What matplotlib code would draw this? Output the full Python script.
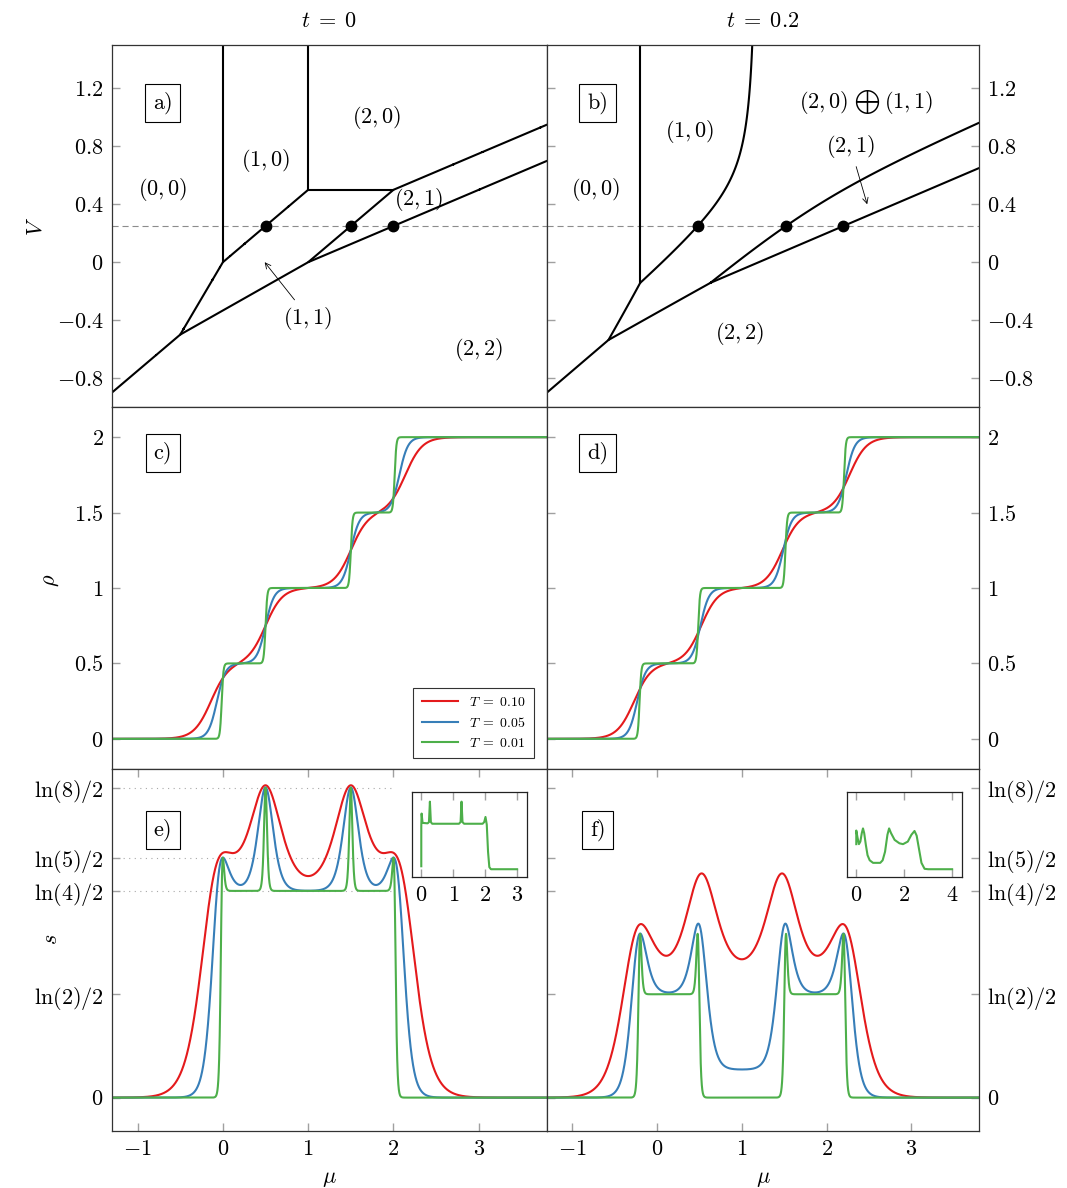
import numpy as np
import matplotlib
matplotlib.use('Agg')
import matplotlib.pyplot as plt

plt.rcParams['mathtext.fontset'] = 'cm'
plt.rcParams['font.family'] = 'serif'
plt.rcParams['font.serif'] = ['cmr10', 'DejaVu Serif']

# model parameters (two-site Hubbard dimer, U = 1, cut at V = 0.25)
U = 1.0
V_cut = 0.25
hoppings = [0.0, 0.2]
titles = [r'$t\;=\;0$', r'$t\;=\;0.2$']
temperatures = [0.10, 0.05, 0.01]
colors = ['#e41a1c', '#377eb8', '#4daf4a']
legend_labels = [r'$T\;=\;0.10$', r'$T\;=\;0.05$', r'$T\;=\;0.01$']

mu_ticks = [-1, 0, 1, 2, 3]
V_ticks = [-0.8, -0.4, 0, 0.4, 0.8, 1.2]
V_ticklabels = [r'$-0.8$', r'$-0.4$', r'$0$', r'$0.4$', r'$0.8$', r'$1.2$']
rho_ticks = [0, 0.5, 1, 1.5, 2]
rho_ticklabels = [r'$0$', r'$0.5$', r'$1$', r'$1.5$', r'$2$']
s_ticks = [0, np.log(2) / 2, np.log(4) / 2, np.log(5) / 2, np.log(8) / 2]
s_ticklabels = [r'$0$', r'$\ln(2)/2$', r'$\ln(4)/2$', r'$\ln(5)/2$', r'$\ln(8)/2$']
s_guides = [np.log(4) / 2, np.log(5) / 2, np.log(8) / 2]

# region labels (text, mu, V)
labels_a = [(r'$(0,0)$', -0.70, 0.50), (r'$(1,0)$', 0.50, 0.70),
            (r'$(2,0)$', 1.80, 1.00), (r'$(2,1)$', 2.29, 0.43),
            (r'$(1,1)$', 1.00, -0.39), (r'$(2,2)$', 3.00, -0.60)]
labels_b = [(r'$(0,0)$', -0.73, 0.50), (r'$(1,0)$', 0.38, 0.90),
            (r'$(2,0)$', 1.97, 1.105), (r'$(1,1)$', 2.97, 1.105),
            (r'$(2,1)$', 2.29, 0.80), (r'$(2,2)$', 0.98, -0.49)]
oplus_pos = (2.483, 1.105)
arrow_a = ((0.84, -0.26), (0.49, 0.0))
arrow_b = ((2.35, 0.66), (2.48, 0.40))

# insets
inset_e_x = [0.0, 0.0, 0.01, 0.04, 0.20, 0.24, 0.27, 0.30, 0.34, 1.18, 1.23, 1.26, 1.29,
             1.34, 1.92, 1.97, 2.01, 2.05, 2.09, 2.13, 2.18, 3.0]
inset_e_y = [0.13, 0.60, 0.75, 0.64, 0.635, 0.65, 0.89, 0.65, 0.63, 0.63, 0.65, 0.89, 0.65,
             0.63, 0.63, 0.65, 0.71, 0.62, 0.30, 0.12, 0.095, 0.095]
inset_f_x = [0.0, 0.0, 0.05, 0.11, 0.17, 0.23, 0.28, 0.33, 0.40, 0.47, 0.56, 0.70, 1.00,
             1.10, 1.20, 1.30, 1.37, 1.45, 1.60, 1.80, 1.95, 2.15, 2.30, 2.43, 2.52,
             2.62, 2.72, 2.85, 3.0, 4.0]
inset_f_y = [0.39, 0.55, 0.47, 0.39, 0.42, 0.52, 0.575, 0.52, 0.38, 0.26, 0.20, 0.17, 0.17,
             0.20, 0.30, 0.50, 0.575, 0.52, 0.44, 0.40, 0.39, 0.42, 0.50, 0.545, 0.49,
             0.33, 0.17, 0.10, 0.095, 0.095]

FS = 16


def dimer_levels(V, t):
    Veff = 2 * V
    root = np.sqrt(((U - Veff) / 2) ** 2 + 4 * t ** 2)
    N = np.array([0, 1, 1, 2, 2, 2, 2, 3, 3, 4])
    E = np.array([0, -t, t, (Veff + U) / 2 - root, Veff, U, (Veff + U) / 2 + root,
                  U + 2 * Veff - t, U + 2 * Veff + t, 2 * U + 4 * Veff])
    g = np.array([1, 2, 2, 1, 3, 1, 1, 2, 2, 1])
    return N, E, g


def thermo(mu, T, t):
    N, E, g = dimer_levels(V_cut, t)
    om = E[:, None] - mu[None, :] * N[:, None]
    om = om - om.min(axis=0)
    w = g[:, None] * np.exp(-om / T)
    Z = w.sum(axis=0)
    rho = (w * N[:, None]).sum(axis=0) / Z / 2
    s = (np.log(Z) + (w * om).sum(axis=0) / Z / T) / 2
    return rho, s


def phase_energies(V, t):
    Veff = 2 * V
    singlet = (Veff + U) / 2 - np.sqrt(((U - Veff) / 2) ** 2 + 4 * t ** 2)
    if t == 0:
        return [(0, 0 * V), (1, 0 * V), (2, U + 0 * V), (2, Veff),
                (3, U + 2 * Veff), (4, 2 * U + 4 * Veff)]
    return [(0, 0 * V), (1, -t + 0 * V), (2, singlet),
            (3, U + 2 * Veff - t), (4, 2 * U + 4 * Veff)]


def draw_phase(ax, t):
    mu = np.linspace(-1.3, 3.8, 1500)
    V = np.linspace(-1.0, 1.5, 1500)
    MU, VV = np.meshgrid(mu, V)
    ph = phase_energies(VV, t)
    G = np.array([E - MU * n for n, E in ph])
    for i in range(len(ph)):
        for j in range(i + 1, len(ph)):
            others = [k for k in range(len(ph)) if k not in (i, j)]
            low = np.minimum(G[i], G[j])
            mask = G[others].min(axis=0) < low - 1e-12
            D = np.ma.masked_where(mask, G[i] - G[j])
            if D.count() == 0 or D.min() > 0 or D.max() < 0:
                continue
            cs = ax.contour(MU, VV, D, levels=[0], colors='k', linewidths=1.5)
            cs.set_capstyle('round')
    # transitions along the cut
    N, E, g = dimer_levels(V_cut, t)
    Eg = [E[N == n].min() for n in range(5)]
    mus = [Eg[n + 1] - Eg[n] for n in range(1, 4)]
    ax.axhline(V_cut, color='#8c8c8c', lw=0.8, ls=(0, (5.5, 3.5)), zorder=1)
    ax.plot(mus, [V_cut] * len(mus), 'o', color='k', ms=7.5, zorder=5)


W, H = 1067, 1188
fig = plt.figure(figsize=(W / 100, H / 100), dpi=100)


def px_axes(x0, y0, w, h):
    return fig.add_axes([x0 / W, 1 - (y0 + h) / H, w / W, h / H])


lefts = [112, 547]
widths = [435, 432]
tops = [45, 407, 769]
rowh = 362
mu_grid = np.linspace(-1.3, 3.8, 4000)

for c, t in enumerate(hoppings):
    axes = [px_axes(lefts[c], tops[r], widths[c], rowh) for r in range(3)]
    for ax in axes:
        ax.set_xlim(-1.3, 3.8)
        for sp in ax.spines.values():
            sp.set_color('#333333')
            sp.set_linewidth(0.9)
        ax.tick_params(direction='in', length=6, width=1.0, color='#a0a0a0',
                       labelsize=FS, pad=6)
        if c == 0:
            ax.tick_params(axis='y', left=True, right=False)
        else:
            ax.tick_params(axis='y', left=True, right=True,
                           labelleft=False, labelright=True)

    # phase diagram
    axp = axes[0]
    draw_phase(axp, t)
    axp.set_ylim(-1.0, 1.5)
    axp.set_xticks([])
    axp.set_yticks(V_ticks)
    axp.set_yticklabels(V_ticklabels)
    axp.set_title(titles[c], fontsize=FS, pad=13)
    for txt, x, y in (labels_a if c == 0 else labels_b):
        axp.text(x, y, txt, fontsize=FS, ha='center', va='center')
    if c == 1:
        axp.text(*oplus_pos, r'$\bigoplus$', fontsize=12, ha='center', va='center')
    tail, head = arrow_a if c == 0 else arrow_b
    axp.annotate('', xy=head, xytext=tail,
                 arrowprops=dict(arrowstyle='->', lw=0.6, color='k',
                                 shrinkA=0, shrinkB=0))

    # density and entropy
    axr, axs = axes[1], axes[2]
    for T, col, lab in zip(temperatures, colors, legend_labels):
        rho, s = thermo(mu_grid, T, t)
        axr.plot(mu_grid, rho, color=col, lw=1.5, label=lab)
        axs.plot(mu_grid, s, color=col, lw=1.5)
    axr.set_ylim(-0.2, 2.2)
    axr.set_xticks([])
    axr.set_yticks(rho_ticks)
    axr.set_yticklabels(rho_ticklabels)

    axs.set_ylim(-0.112, 1.102)
    axs.set_yticks(s_ticks)
    axs.set_yticklabels(s_ticklabels)
    axs.set_xticks(mu_ticks)
    axs.set_xticklabels([r'$%d$' % m for m in mu_ticks])
    axs.tick_params(axis='x', top=True, bottom=True)
    axs.set_xlabel(r'$\mu$', fontsize=FS)
    axs.xaxis.set_label_coords(0.5, -0.105)

    for ax, lab, yf in zip(axes, ['a', 'c', 'e'] if c == 0 else ['b', 'd', 'f'],
                           [0.84, 0.873, 0.832]):
        ax.text(0.117, yf, lab + ')', transform=ax.transAxes, ha='center', va='center',
                fontsize=FS, zorder=6,
                bbox=dict(boxstyle='square,pad=0.35', fc='white', ec='k', lw=0.8))

    if c == 0:
        axp.set_ylabel(r'$V$', fontsize=FS)
        axp.yaxis.set_label_coords(-0.154, 0.5)
        axr.set_ylabel(r'$\rho$', fontsize=FS)
        axr.yaxis.set_label_coords(-0.118, 0.52)
        axs.set_ylabel(r'$s$', fontsize=FS)
        axs.yaxis.set_label_coords(-0.118, 0.53)
        axs.hlines(s_guides, -1.3, 2.0, colors='#a8a8a8', lw=0.8,
                   linestyles=(0, (1, 4)), zorder=0)
        leg = axr.legend(loc='lower right', bbox_to_anchor=(0.97, 0.03), borderaxespad=0,
                         fontsize=10, frameon=True, fancybox=False, edgecolor='k',
                         handlelength=2.6, labelspacing=0.5, borderpad=0.6,
                         handletextpad=0.8)
        leg.get_frame().set_linewidth(0.8)

# insets
for x0, xs, ys, ticks, lim in [(411.7, inset_e_x, inset_e_y, [0, 1, 2, 3], (-0.3, 3.3)),
                               (846.7, inset_f_x, inset_f_y, [0, 2, 4], (-0.4, 4.4))]:
    ins = px_axes(x0, 792.3, 115, 85)
    ins.plot(xs, ys, color=colors[2], lw=1.5)
    ins.set_xlim(*lim)
    ins.set_ylim(0, 1)
    ins.set_yticks([])
    ins.set_xticks(ticks)
    ins.set_xticklabels([r'$%d$' % v for v in ticks])
    ins.tick_params(axis='x', direction='in', top=True, length=6, width=1.0,
                    color='#a0a0a0', labelsize=FS, pad=6)
    for sp in ins.spines.values():
        sp.set_color('#222222')
        sp.set_linewidth(0.9)

fig.savefig('out.png', dpi=100)
